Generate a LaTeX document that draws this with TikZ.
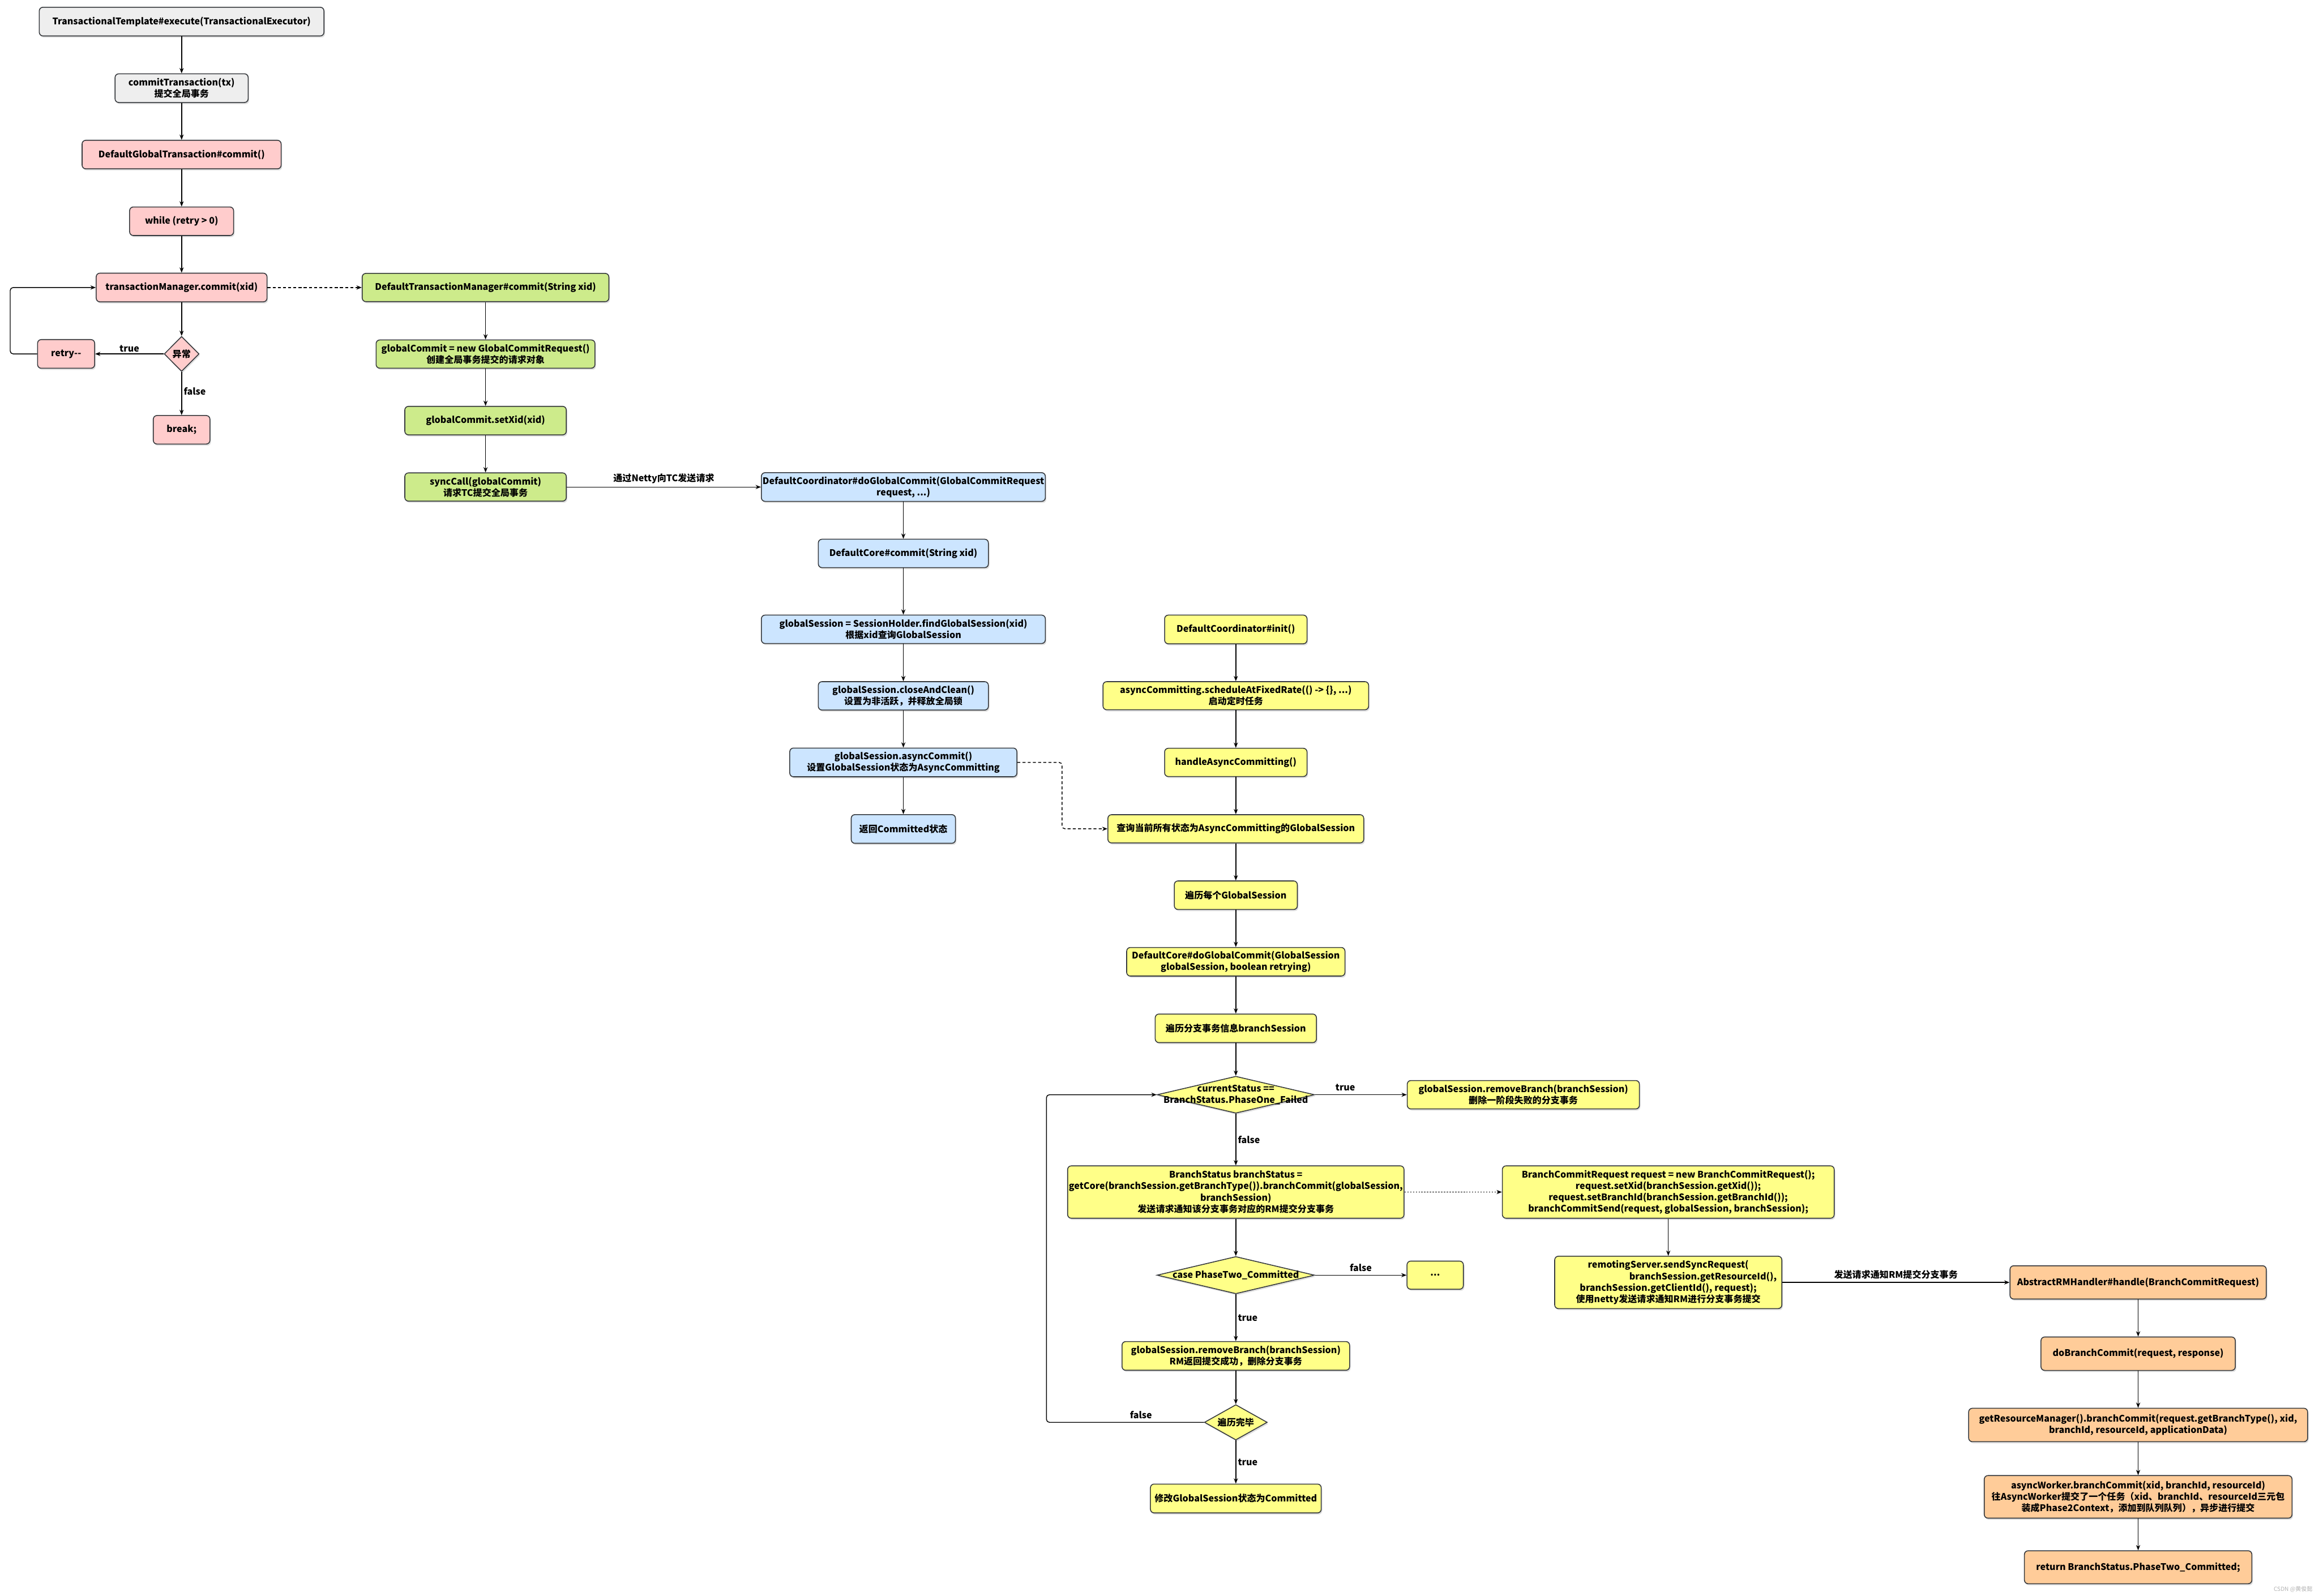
\documentclass[tikz,border=0pt]{standalone}
\usepackage{fontspec}
\setmainfont{Noto Sans CJK SC}
\usetikzlibrary{arrows.meta,shapes.geometric,shadows}

\definecolor{grayfill}{HTML}{EEEEEE}
\definecolor{pinkfill}{HTML}{FFCCCC}
\definecolor{greenfill}{HTML}{CDEB8B}
\definecolor{bluefill}{HTML}{CCE5FF}
\definecolor{yellowfill}{HTML}{FFFF88}
\definecolor{orangefill}{HTML}{FFCC99}
\definecolor{edgegray}{HTML}{36393D}

\newcommand{\flowfont}{\fontsize{17.5}{22}\selectfont\bfseries}

\begin{document}
\begin{tikzpicture}[
  x=1mm, y=-1mm,
  >={Stealth[length=3.6mm,width=2.8mm]},
  flow/.style={->,line width=0.55mm},
  dashflow/.style={flow,dash pattern=on 2mm off 1.5mm},
  dotflow/.style={flow,dash pattern=on 1mm off 0.9mm},
  shade/.style={drop shadow={shadow xshift=0.7mm,shadow yshift=-1.1mm,opacity=0.25}},
  box/.style={rectangle,rounded corners=2.5mm,draw=edgegray,line width=0.6mm,
    align=center,inner sep=0.8mm,font=\flowfont,shade},
  graybox/.style={box,fill=grayfill},
  pinkbox/.style={box,fill=pinkfill},
  greenbox/.style={box,fill=greenfill},
  bluebox/.style={box,fill=bluefill},
  yellowbox/.style={box,fill=yellowfill},
  orangebox/.style={box,fill=orangefill},
  decision/.style={diamond,draw=edgegray,line width=0.6mm,inner sep=0,shade},
  dlabel/.style={font=\flowfont,align=center,inner sep=0},
  edgelabel/.style={font=\flowfont}
]
\useasboundingbox (0,0) rectangle (1568,1079);

% client side: TM
\node[graybox,minimum width=192.5mm,minimum height=19.4mm] (execute) at (122.8,14.6)
  {TransactionalTemplate\#execute(TransactionalExecutor)};
\node[graybox,minimum width=90mm,minimum height=19.4mm] (committx) at (122.8,59.6)
  {commitTransaction(tx)\\提交全局事务};
\node[pinkbox,minimum width=134.6mm,minimum height=19.3mm] (dgtcommit) at (122.8,104.5)
  {DefaultGlobalTransaction\#commit()};
\node[pinkbox,minimum width=70.3mm,minimum height=19.3mm] (whileretry) at (122.8,149.6)
  {while (retry > 0)};
\node[pinkbox,minimum width=115.5mm,minimum height=19.4mm] (tmcommit) at (122.8,194.4)
  {transactionManager.commit(xid)};
\node[decision,fill=pinkfill,minimum width=23.6mm,minimum height=23.7mm,
  label={[dlabel]center:异常}] (exception) at (122.8,239.3) {};
\node[pinkbox,minimum width=38.6mm,minimum height=19.4mm] (retry) at (44.7,239.3) {retry{-}{-}};
\node[pinkbox,minimum width=38.3mm,minimum height=19.3mm] (brk) at (122.8,290.6) {break;};

\node[greenbox,minimum width=166.8mm,minimum height=19.1mm] (dtmcommit) at (328.3,194.4)
  {DefaultTransactionManager\#commit(String xid)};
\node[greenbox,minimum width=148mm,minimum height=19.1mm] (newrequest) at (328.3,239.4)
  {globalCommit = new GlobalCommitRequest()\\创建全局事务提交的请求对象};
\node[greenbox,minimum width=109.2mm,minimum height=19.3mm] (setxid) at (328.3,284.4)
  {globalCommit.setXid(xid)};
\node[greenbox,minimum width=109.2mm,minimum height=19.1mm] (synccall) at (328.3,329.3)
  {syncCall(globalCommit)\\请求TC提交全局事务};

% server side: TC
\node[bluebox,minimum width=192mm,minimum height=19.4mm] (doglobalcommit) at (610.8,329.3)
  {DefaultCoordinator\#doGlobalCommit(GlobalCommitRequest\\request, ...)};
\node[bluebox,minimum width=115mm,minimum height=19.2mm] (corecommit) at (610.8,374.2)
  {DefaultCore\#commit(String xid)};
\node[bluebox,minimum width=192mm,minimum height=19.2mm] (findsession) at (610.8,425.5)
  {globalSession = SessionHolder.findGlobalSession(xid)\\根据xid查询GlobalSession};
\node[bluebox,minimum width=115mm,minimum height=19.2mm] (closeclean) at (610.8,470.5)
  {globalSession.closeAndClean()\\设置为非活跃，并释放全局锁};
\node[bluebox,minimum width=153.6mm,minimum height=19.4mm] (asynccommit) at (610.8,515.5)
  {globalSession.asyncCommit()\\设置GlobalSession状态为AsyncCommitting};
\node[bluebox,minimum width=70.5mm,minimum height=19.4mm] (retcommitted) at (610.8,560.5)
  {返回Committed状态};

% async committing task
\node[yellowbox,minimum width=96.3mm,minimum height=19.4mm] (coordinit) at (835.6,425.6)
  {DefaultCoordinator\#init()};
\node[yellowbox,minimum width=179.6mm,minimum height=19mm] (schedule) at (835.6,470.4)
  {asyncCommitting.scheduleAtFixedRate(() -> \{\}, ...)\\启动定时任务};
\node[yellowbox,minimum width=96.3mm,minimum height=19.1mm] (handleasync) at (835.6,515.5)
  {handleAsyncCommitting()};
\node[yellowbox,minimum width=173mm,minimum height=19.1mm] (querysessions) at (835.6,560.4)
  {查询当前所有状态为AsyncCommitting的GlobalSession};
\node[yellowbox,minimum width=83.2mm,minimum height=19.3mm] (eachsession) at (835.6,605.3)
  {遍历每个GlobalSession};
\node[yellowbox,minimum width=147.6mm,minimum height=19.3mm] (coredocommit) at (835.6,650.3)
  {DefaultCore\#doGlobalCommit(GlobalSession\\globalSession, boolean retrying)};
\node[yellowbox,minimum width=109mm,minimum height=19.3mm] (eachbranch) at (835.6,695.3)
  {遍历分支事务信息branchSession};
\node[decision,fill=yellowfill,minimum width=106.5mm,minimum height=25mm,
  label={[dlabel]center:{currentStatus ==\\BranchStatus.PhaseOne\_Failed}}] (phaseonefailed) at (835.6,740.2) {};
\node[yellowbox,minimum width=157mm,minimum height=19.2mm] (removefailed) at (1030,740.2)
  {globalSession.removeBranch(branchSession)\\删除一阶段失败的分支事务};
\node[yellowbox,minimum width=224.5mm,minimum height=35.4mm] (branchcommit) at (835.6,806)
  {BranchStatus branchStatus =\\getCore(branchSession.getBranchType()).branchCommit(globalSession,\\branchSession)\\发送请求通知该分支事务对应的RM提交分支事务};
\node[decision,fill=yellowfill,minimum width=106.5mm,minimum height=25.2mm,
  label={[dlabel]center:case PhaseTwo\_Committed}] (casetwo) at (835.6,862.2) {};
\node[yellowbox,minimum width=38.1mm,minimum height=19mm] (others) at (970.4,862.2) {...};
\node[yellowbox,minimum width=153.9mm,minimum height=19.4mm] (removebranch) at (835.6,916.8)
  {globalSession.removeBranch(branchSession)\\RM返回提交成功，删除分支事务};
\node[decision,fill=yellowfill,minimum width=42.5mm,minimum height=23.9mm,
  label={[dlabel]center:遍历完毕}] (traversedone) at (835.6,961.7) {};
\node[yellowbox,minimum width=115.5mm,minimum height=19.5mm] (setcommitted) at (835.6,1013.2)
  {修改GlobalSession状态为Committed};

\node[yellowbox,minimum width=224.4mm,minimum height=35.4mm] (buildrequest) at (1128,806)
  {BranchCommitRequest request = new BranchCommitRequest();\\request.setXid(branchSession.getXid());\\request.setBranchId(branchSession.getBranchId());\\branchCommitSend(request, globalSession, branchSession);};
\node[yellowbox,minimum width=153.6mm,minimum height=35.4mm] (sendsync) at (1128,867.1)
  {remotingServer.sendSyncRequest(\\\hspace*{47mm}branchSession.getResourceId(),\\branchSession.getClientId(), request);\\使用netty发送请求通知RM进行分支事务提交};

% RM side
\node[orangebox,minimum width=173.3mm,minimum height=22.5mm] (rmhandle) at (1445.7,867.1)
  {AbstractRMHandler\#handle(BranchCommitRequest)};
\node[orangebox,minimum width=131.4mm,minimum height=22.6mm] (dobranch) at (1445.7,915.3)
  {doBranchCommit(request, response)};
\node[orangebox,minimum width=229.2mm,minimum height=22.6mm] (rmcommit) at (1445.7,963.5)
  {getResourceManager().branchCommit(request.getBranchType(), xid,\\branchId, resourceId, applicationData)};
\node[orangebox,minimum width=208.1mm,minimum height=28.8mm] (asyncworker) at (1445.7,1012.1)
  {asyncWorker.branchCommit(xid, branchId, resourceId)\\往AsyncWorker提交了一个任务（xid、branchId、resourceId三元包\\装成Phase2Context，添加到队列队列），异步进行提交};
\node[orangebox,minimum width=153.8mm,minimum height=22.3mm] (returnstatus) at (1445.7,1059.7)
  {return BranchStatus.PhaseTwo\_Committed;};

\node[font=\fontsize{11}{12}\selectfont,text=gray!60] (watermark) at (1550.5,1074.4) {CSDN @黄俊懿};

% connectors
\draw[flow] (execute) -- (committx);
\draw[flow] (committx) -- (dgtcommit);
\draw[flow] (dgtcommit) -- (whileretry);
\draw[flow] (whileretry) -- (tmcommit);
\draw[flow] (tmcommit) -- (exception);
\draw[flow] (exception) -- node[edgelabel,above]{true} (retry);
\draw[flow] (exception) -- node[edgelabel,right,pos=0.45]{false} (brk);
\draw[flow,rounded corners=2mm] (retry.west) -- ++(-18.2,0) |- (tmcommit.west);
\draw[dashflow] (tmcommit) -- (dtmcommit);

\draw[flow] (dtmcommit) -- (newrequest);
\draw[flow] (newrequest) -- (setxid);
\draw[flow] (setxid) -- (synccall);
\draw[flow] (synccall) -- node[edgelabel,above=1mm]{通过Netty向TC发送请求} (doglobalcommit);

\draw[flow] (doglobalcommit) -- (corecommit);
\draw[flow] (corecommit) -- (findsession);
\draw[flow] (findsession) -- (closeclean);
\draw[flow] (closeclean) -- (asynccommit);
\draw[flow] (asynccommit) -- (retcommitted);
\draw[dashflow,rounded corners=2mm] (asynccommit.east) -- ++(30.2,0) |- (querysessions.west);

\draw[flow] (coordinit) -- (schedule);
\draw[flow] (schedule) -- (handleasync);
\draw[flow] (handleasync) -- (querysessions);
\draw[flow] (querysessions) -- (eachsession);
\draw[flow] (eachsession) -- (coredocommit);
\draw[flow] (coredocommit) -- (eachbranch);
\draw[flow] (eachbranch) -- (phaseonefailed);
\draw[flow] (phaseonefailed) -- node[edgelabel,above=1mm,pos=0.33]{true} (removefailed);
\draw[flow] (phaseonefailed) -- node[edgelabel,right]{false} (branchcommit);
\draw[dotflow] (branchcommit) -- (buildrequest);
\draw[flow] (branchcommit) -- (casetwo);
\draw[flow] (casetwo) -- node[edgelabel,above=1mm]{false} (others);
\draw[flow] (casetwo) -- node[edgelabel,right]{true} (removebranch);
\draw[flow] (removebranch) -- (traversedone);
\draw[flow] (traversedone) -- node[edgelabel,right]{true} (setcommitted);
\draw[flow,rounded corners=2mm] (traversedone.west)
  -- node[edgelabel,above=1mm,pos=0.4]{false} ++(-106.5,0) |- (phaseonefailed.west);

\draw[flow] (buildrequest) -- (sendsync);
\draw[flow] (sendsync) -- node[edgelabel,above=1mm]{发送请求通知RM提交分支事务} (rmhandle);

\draw[flow] (rmhandle) -- (dobranch);
\draw[flow] (dobranch) -- (rmcommit);
\draw[flow] (rmcommit) -- (asyncworker);
\draw[flow] (asyncworker) -- (returnstatus);
\end{tikzpicture}
\end{document}
